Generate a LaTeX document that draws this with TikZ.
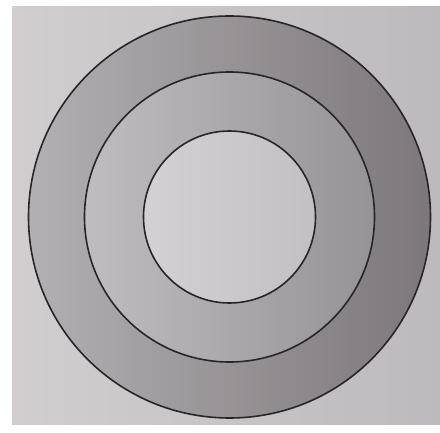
\documentclass[tikz,border=0pt]{standalone}
\definecolor{bgL}{RGB}{210,206,208}
\definecolor{bgR}{RGB}{190,185,188}
\definecolor{oL}{RGB}{180,175,178}
\definecolor{oR}{RGB}{125,118,122}
\definecolor{mL}{RGB}{192,188,191}
\definecolor{mR}{RGB}{152,146,150}
\definecolor{iL}{RGB}{212,209,212}
\definecolor{iR}{RGB}{195,191,194}
\definecolor{rim}{RGB}{40,37,40}
\tikzset{ring/.style={draw=rim,line width=1.6pt}}
\begin{document}
\begin{tikzpicture}[x=1pt,y=-1pt]
\useasboundingbox (0,0) rectangle (440,433);
\fill[white] (0,0) rectangle (440,433);
\shade[left color=bgL,right color=bgR] (12,7) rectangle (440,425);
\coordinate (c) at (229.5,217);
\shade[ring,left color=oL,right color=oR] (c) circle (201);
\shade[ring,left color=mL,right color=mR] (c) circle (145);
\shade[ring,left color=iL,right color=iR] (c) circle (86);
\end{tikzpicture}
\end{document}
